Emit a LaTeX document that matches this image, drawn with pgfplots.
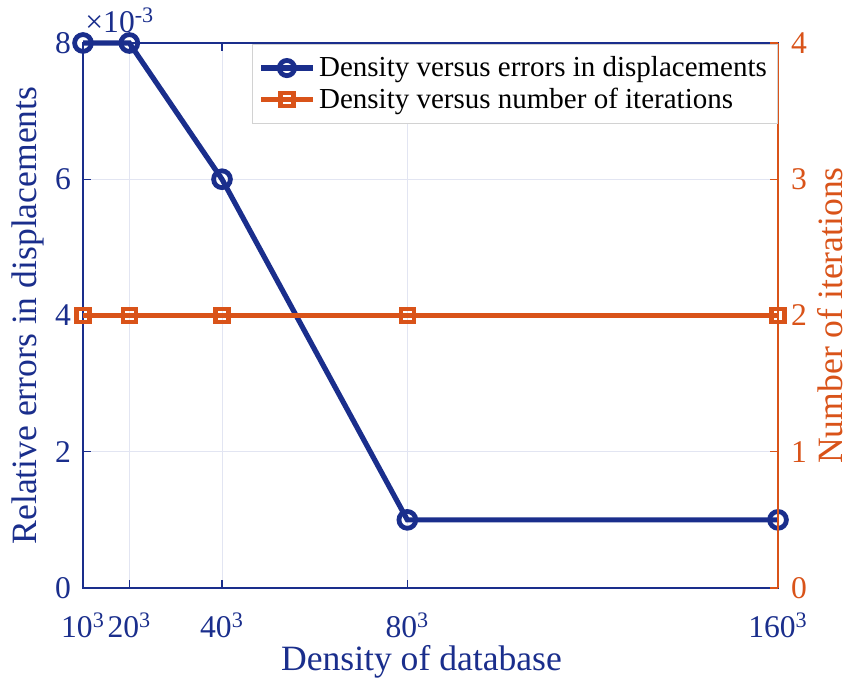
\documentclass[border=0pt]{standalone}
\usepackage{fontspec}
\setmainfont{Liberation Serif}
\usepackage{pgfplots}
\pgfplotsset{compat=1.18}
\definecolor{mblue}{RGB}{26,46,140}
\definecolor{morange}{RGB}{217,83,25}
\definecolor{gridc}{RGB}{226,229,242}

\begin{document}
\begin{tikzpicture}
\pgfplotsset{
  common/.style={
    scale only axis, width=347.5pt, height=272.5pt,
    xmin=10, xmax=160,
    tick align=inside,
    major tick length=4pt,
    scaled ticks=false,
    /pgf/number format/assume math mode=true,
    tick label style={font=\fontsize{15.8}{18}\selectfont},
    label style={font=\fontsize{17.8}{20}\selectfont},
  }
}
\begin{axis}[
  common,
  ymin=0, ymax=0.008,
  xtick={10,20,40,80,160},
  xticklabels={10\textsuperscript{3},20\textsuperscript{3},40\textsuperscript{3},80\textsuperscript{3},160\textsuperscript{3}},
  ytick={0,0.002,0.004,0.006,0.008},
  yticklabels={0,2,4,6,8},
  ytick pos=left,
  xmajorgrids, ymajorgrids,
  grid style={gridc, line width=0.5pt},
  axis line style={mblue, line width=0.6pt},
  every tick/.style={mblue, line width=0.6pt},
  tick label style={mblue},
  xticklabel style={anchor=base, yshift=-25pt},
  yticklabel style={xshift=-2.5pt},
  xlabel={Density of database},
  ylabel={Relative errors in displacements},
  label style={mblue},
  xlabel style={at={(rel axis cs:0.5,0)}, anchor=base, yshift=-41.5pt, xshift=-4.5pt},
  ylabel style={at={(rel axis cs:0,0.5)}, anchor=center, yshift=27.5pt},
  clip=false,
]
\addplot[mblue, line width=2.6pt, mark=o, mark size=4.2pt,
  mark options={fill=white, line width=2.4pt}]
  coordinates {(10,0.008) (20,0.008) (40,0.006) (80,0.001) (160,0.001)};
\node[anchor=base west, mblue, font=\fontsize{15.8}{18}\selectfont, inner sep=0pt]
  at (rel axis cs:0,1) [xshift=1pt, yshift=5pt] {×10\textsuperscript{-3}};
\coordinate (sw) at (rel axis cs:0,0);
\coordinate (ne) at (rel axis cs:1,1);
\end{axis}
\begin{axis}[
  common,
  ymin=0, ymax=4,
  axis x line=none,
  axis y line*=right,
  ytick={0,1,2,3,4},
  y axis line style={morange, line width=0.6pt},
  every tick/.style={morange, line width=0.6pt},
  yticklabel style={morange, xshift=3pt},
  ylabel={Number of iterations},
  ylabel style={at={(rel axis cs:1,0.5)}, anchor=center, yshift=-26pt, morange},
  legend style={at={(rel axis cs:0.999,0.998)}, anchor=north east,
    draw=gray!35, fill=white, font=\fontsize{14.5}{16}\selectfont,
    cells={anchor=west}, row sep=0pt, inner xsep=3pt, inner ysep=4pt},
  legend image code/.code={
    \draw[mark repeat=2,mark phase=2] plot coordinates {(0cm,0cm) (0.45cm,0cm) (0.9cm,0cm)};},
]
\addlegendimage{mblue, line width=2.6pt, mark=o, mark size=3.8pt,
  mark options={fill=white, line width=2.4pt}}
\addlegendentry{Density versus errors in displacements}
\addplot[morange, line width=2.6pt, mark=square, mark size=3.3pt,
  mark options={fill=white, line width=2.2pt}]
  coordinates {(10,2) (20,2) (40,2) (80,2) (160,2)};
\addlegendentry{Density versus number of iterations}
\end{axis}
\pgfresetboundingbox
\path[use as bounding box] ([shift={(-41.5pt,-48pt)}]sw) rectangle ([shift={(38.5pt,21.5pt)}]ne);
\end{tikzpicture}
\end{document}
